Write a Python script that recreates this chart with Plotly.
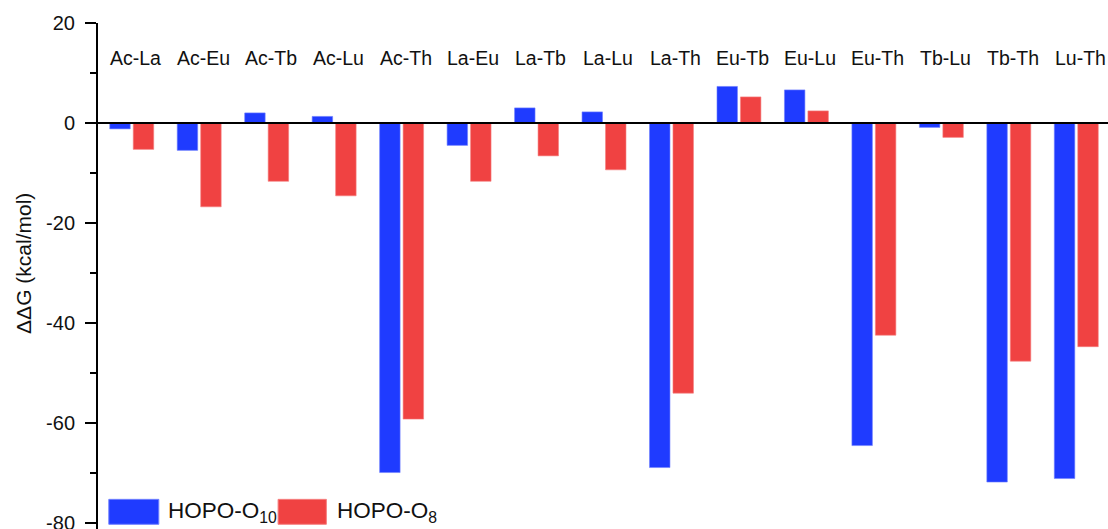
import plotly.graph_objects as go

# Ion pairs compared
pairs = ["Ac-La", "Ac-Eu", "Ac-Tb", "Ac-Lu", "Ac-Th", "La-Eu", "La-Tb", "La-Lu",
         "La-Th", "Eu-Tb", "Eu-Lu", "Eu-Th", "Tb-Lu", "Tb-Th", "Lu-Th"]

# ΔΔG values (kcal/mol) for each ligand
hopo_o10 = [-1.2, -5.5, 2.0, 1.3, -70.0, -4.5, 3.0, 2.2, -69.0, 7.3, 6.6, -64.6, -0.9, -71.9, -71.2]
hopo_o8 = [-5.3, -16.8, -11.7, -14.6, -59.3, -11.7, -6.6, -9.4, -54.1, 5.2, 2.4, -42.5, -2.9, -47.7, -44.8]

# Y axis ticks
y_tickvals = [20, 0, -20, -40, -60, -80]
y_ticktext = ["20", "0", "-20", "-40", "-60", "-80"]

BLUE = "#1f3bff"
RED = "#f04242"
FONT = "Liberation Sans, Arial, sans-serif"

fig = go.Figure()
fig.add_trace(go.Bar(x=pairs, y=hopo_o10, name="HOPO-O<sub>10</sub>",
                     marker=dict(color=BLUE, line=dict(color="#6f80ff", width=0.6))))
fig.add_trace(go.Bar(x=pairs, y=hopo_o8, name="HOPO-O<sub>8</sub>",
                     marker=dict(color=RED, line=dict(color="#f58080", width=0.6))))

# Pair labels along the top of the plot
for p in pairs:
    fig.add_annotation(x=p, y=12.9, xref="x", yref="y", text=p, showarrow=False,
                       xshift=4, font=dict(family=FONT, size=19.5, color="#111111"),
                       xanchor="center", yanchor="middle")

# Zero reference line
fig.add_hline(y=0, line=dict(color="black", width=2))

# Y axis title, placed to the left of the tick labels
fig.add_annotation(xref="paper", yref="paper", x=-0.0732, y=0.524,
                   text="ΔΔG (kcal/mol)", textangle=-90, showarrow=False,
                   xanchor="center", yanchor="middle",
                   font=dict(family=FONT, size=21, color="#111111"))

# Legend drawn as large swatches in the lower left corner
legend_items = [("HOPO-O<sub>10</sub>", BLUE, "#6f80ff", 0.0107, 0.0602, 0.0675),
                ("HOPO-O<sub>8</sub>", RED, "#f58080", 0.1783, 0.2261, 0.2343)]
for label, color, edge, x0, x1, xt in legend_items:
    fig.add_shape(type="rect", xref="paper", yref="paper", x0=x0, x1=x1,
                  y0=0.0093, y1=0.0586, fillcolor=color, line=dict(color=edge, width=1))
    fig.add_annotation(xref="paper", yref="paper", x=xt, y=0.034, text=label,
                       showarrow=False, xanchor="left", yanchor="middle",
                       font=dict(family=FONT, size=22.5, color="#111111"))

fig.update_layout(
    width=1108, height=529,
    margin=dict(l=97.5, r=0, t=22.5, b=0, pad=0, autoexpand=False),
    paper_bgcolor="white", plot_bgcolor="white",
    barmode="group", bargap=0.304, bargroupgap=0.128,
    showlegend=False,
    font=dict(family=FONT, color="#111111"),
)
fig.update_xaxes(range=[-0.5, 14.47], showticklabels=False, ticks="",
                 showline=False, showgrid=False, zeroline=False, automargin=False)
fig.update_yaxes(range=[-81.3, 20], tickvals=y_tickvals, ticktext=y_ticktext,
                 ticks="outside", ticklen=11, tickwidth=2, tickcolor="black",
                 minor=dict(ticks="outside", ticklen=6, tickwidth=2, tickcolor="black",
                            tickvals=[10, -10, -30, -50, -70]),
                 showline=True, linecolor="black", linewidth=2,
                 showgrid=False, zeroline=False, automargin=False,
                 tickfont=dict(family=FONT, size=20, color="#111111"),
                 ticklabelstandoff=6, ticklabeloverflow="allow")

fig.write_html("out.html")
